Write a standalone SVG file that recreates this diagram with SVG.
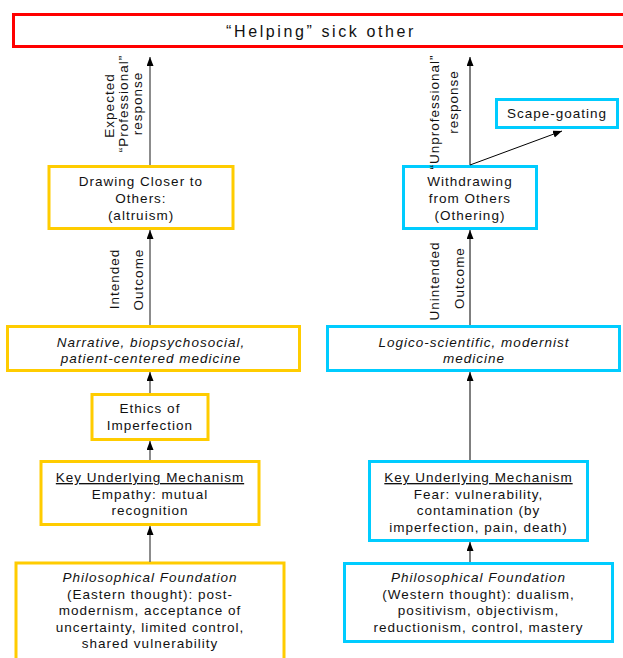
<svg xmlns="http://www.w3.org/2000/svg" width="623" height="658" viewBox="0 0 623 658">
<defs>
<style>
.t{font-family:"Liberation Sans",Arial,sans-serif;font-size:13.5px;letter-spacing:1px;fill:#111;text-anchor:middle}
.i{font-style:italic}
.u{text-decoration:underline}
.y{fill:#fff;stroke:#ffcc00;stroke-width:3}
.c{fill:#fff;stroke:#00ccff;stroke-width:3}
.lg{stroke:#666;stroke-width:1.5;fill:none}
.lb{stroke:#000;stroke-width:1;fill:none}
</style>
<marker id="ah" markerUnits="userSpaceOnUse" markerWidth="10" markerHeight="8" refX="9" refY="3.5" orient="auto">
<path d="M0,0 L9,3.5 L0,7 z" fill="#000"/>
</marker>
</defs>
<rect width="623" height="658" fill="#fff"/>

<g id="helping">
<rect x="13.5" y="14.5" width="620" height="32" fill="#fff" stroke="#ff0000" stroke-width="3"/>
<text class="t" x="321" y="37" style="font-size:16px;letter-spacing:2.6px">“Helping” sick other</text>
</g>

<g id="scapegoating">
<rect class="c" x="496.5" y="99.5" width="121" height="28"/>
<text class="t" x="557" y="118">Scape-goating</text>
</g>

<g id="drawing-closer">
<rect class="y" x="49" y="166.5" width="184" height="62"/>
<text class="t" x="141" y="186">Drawing Closer to</text>
<text class="t" x="141" y="203">Others:</text>
<text class="t" x="141" y="220">(altruism)</text>
</g>

<g id="withdrawing">
<rect class="c" x="403.5" y="166.5" width="133" height="62"/>
<text class="t" x="470" y="186">Withdrawing</text>
<text class="t" x="470" y="203">from Others</text>
<text class="t" x="470" y="220">(Othering)</text>
</g>

<g id="narrative">
<rect class="y" x="7.5" y="326.5" width="292" height="44"/>
<text class="t i" x="151" y="347">Narrative, biopsychosocial,</text>
<text class="t i" x="151" y="363">patient-centered medicine</text>
</g>

<g id="logico">
<rect class="c" x="327.5" y="326.5" width="292" height="44"/>
<text class="t i" x="474" y="347">Logico-scientific, modernist</text>
<text class="t i" x="474" y="363">medicine</text>
</g>

<g id="ethics">
<rect class="y" x="92" y="394.5" width="116" height="45"/>
<text class="t" x="150" y="413">Ethics of</text>
<text class="t" x="150" y="430">Imperfection</text>
</g>

<g id="key-left">
<rect class="y" x="41" y="461.5" width="218" height="63"/>
<text class="t u" x="150" y="482">Key Underlying Mechanism</text>
<text class="t" x="150" y="498.5">Empathy: mutual</text>
<text class="t" x="150" y="515">recognition</text>
</g>

<g id="key-right">
<rect class="c" x="369.5" y="461.5" width="218" height="79"/>
<text class="t u" x="478.5" y="482">Key Underlying Mechanism</text>
<text class="t" x="478.5" y="498.5">Fear: vulnerability,</text>
<text class="t" x="478.5" y="515">contamination (by</text>
<text class="t" x="478.5" y="531.5">imperfection, pain, death)</text>
</g>

<g id="phil-left">
<rect class="y" x="16" y="563" width="268" height="110"/>
<text class="t i" x="150" y="582">Philosophical Foundation</text>
<text class="t" x="150" y="598.5">(Eastern thought): post-</text>
<text class="t" x="150" y="615">modernism, acceptance of</text>
<text class="t" x="150" y="631.5">uncertainty, limited control,</text>
<text class="t" x="150" y="648">shared vulnerability</text>
</g>

<g id="phil-right">
<rect class="c" x="344.5" y="563.5" width="268" height="78"/>
<text class="t i" x="478.5" y="582">Philosophical Foundation</text>
<text class="t" x="478.5" y="598.5">(Western thought): dualism,</text>
<text class="t" x="478.5" y="615">positivism, objectivism,</text>
<text class="t" x="478.5" y="631.5">reductionism, control, mastery</text>
</g>

<g id="connectors">
<line class="lg" x1="150" y1="165" x2="150" y2="57" marker-end="url(#ah)"/>
<line class="lg" x1="150" y1="325" x2="150" y2="230" marker-end="url(#ah)"/>
<line class="lg" x1="150" y1="393" x2="150" y2="372" marker-end="url(#ah)"/>
<line class="lg" x1="150" y1="460" x2="150" y2="441" marker-end="url(#ah)"/>
<line class="lg" x1="150" y1="562" x2="150" y2="526" marker-end="url(#ah)"/>
<line class="lb" x1="470" y1="165" x2="470" y2="57" marker-end="url(#ah)"/>
<line class="lb" x1="470" y1="165" x2="562" y2="131" marker-end="url(#ah)"/>
<line class="lb" x1="470" y1="325" x2="470" y2="230" marker-end="url(#ah)"/>
<line class="lb" x1="470" y1="460" x2="470" y2="372" marker-end="url(#ah)"/>
<line class="lb" x1="470" y1="562" x2="470" y2="542" marker-end="url(#ah)"/>
<text class="t" transform="translate(113.5,105.5) rotate(-90)">Expected</text>
<text class="t" transform="translate(127.5,103.5) rotate(-90)">“Professional”</text>
<text class="t" transform="translate(142,103.5) rotate(-90)">response</text>
<text class="t" transform="translate(439,112) rotate(-90)">“Unprofessional”</text>
<text class="t" transform="translate(458,102) rotate(-90)">response</text>
<text class="t" transform="translate(118.5,279) rotate(-90)">Intended</text>
<text class="t" transform="translate(142.5,279.5) rotate(-90)">Outcome</text>
<text class="t" transform="translate(439,281) rotate(-90)">Unintended</text>
<text class="t" transform="translate(464,278) rotate(-90)">Outcome</text>
</g>
</svg>
